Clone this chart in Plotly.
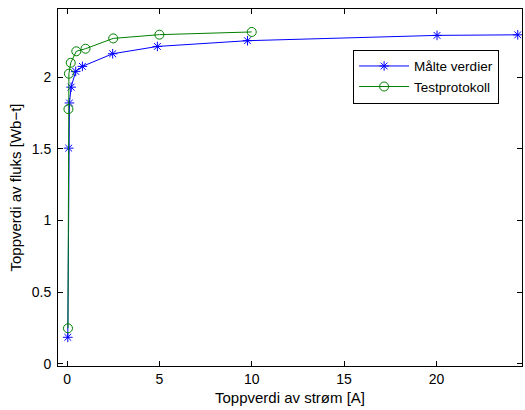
import plotly.graph_objects as go

# Measured peak current [A] and peak flux [Wb-t]
maalt_strom = [0.04, 0.09, 0.13, 0.22, 0.47, 0.83, 2.47, 4.89, 9.77, 20.03, 24.4]
maalt_fluks = [0.186, 1.505, 1.82, 1.93, 2.04, 2.075, 2.163, 2.214, 2.254, 2.291, 2.295]

# Values from the test protocol
test_strom = [0.05, 0.075, 0.1, 0.2, 0.5, 1.0, 2.5, 5.0, 10.0]
test_fluks = [0.249, 1.777, 2.024, 2.10, 2.18, 2.198, 2.27, 2.296, 2.315]

x_ticks = [0, 5, 10, 15, 20]
y_ticks = [0, 0.5, 1, 1.5, 2]
y_tick_text = ["0", "0.5", "1", "1.5", "2"]

font = "Liberation Sans, Arial, Helvetica, sans-serif"

fig = go.Figure()
fig.add_trace(go.Scatter(
    x=maalt_strom, y=maalt_fluks, mode="lines+markers", name="Målte verdier",
    line=dict(color="#0000ff", width=1),
    marker=dict(symbol="asterisk-open", size=8, color="#0000ff",
                line=dict(color="#0000ff", width=1)),
))
fig.add_trace(go.Scatter(
    x=test_strom, y=test_fluks, mode="lines+markers", name="Testprotokoll",
    line=dict(color="#008000", width=1),
    marker=dict(symbol="circle-open", size=9, color="#008000",
                line=dict(color="#008000", width=1)),
))

axis_common = dict(
    showline=True, linecolor="black", linewidth=1, mirror="allticks",
    ticks="inside", ticklen=5, tickcolor="black", tickwidth=1,
    showgrid=False, zeroline=False,
    tickfont=dict(family=font, size=14, color="black"),
)

fig.update_layout(
    width=525, height=410,
    margin=dict(l=58, r=3, t=9, b=44),
    paper_bgcolor="white", plot_bgcolor="white",
    font=dict(family=font, color="black"),
    xaxis=dict(range=[-0.49, 24.63], tickvals=x_ticks,
               title=dict(text="Toppverdi av strøm [A]", font=dict(size=15), standoff=6),
               **axis_common),
    yaxis=dict(range=[-0.014, 2.475], tickvals=y_ticks, ticktext=y_tick_text,
               ticklabelstandoff=3,
               title=dict(text="Toppverdi av fluks [Wb−t]", font=dict(size=15), standoff=6),
               **axis_common),
    legend=dict(x=0.636, y=0.886, xanchor="left", yanchor="top",
                bgcolor="white", bordercolor="black", borderwidth=1,
                font=dict(family=font, size=13.5, color="black"),
                tracegroupgap=0, itemwidth=50),
    showlegend=True,
)

fig.write_html("out.html")
